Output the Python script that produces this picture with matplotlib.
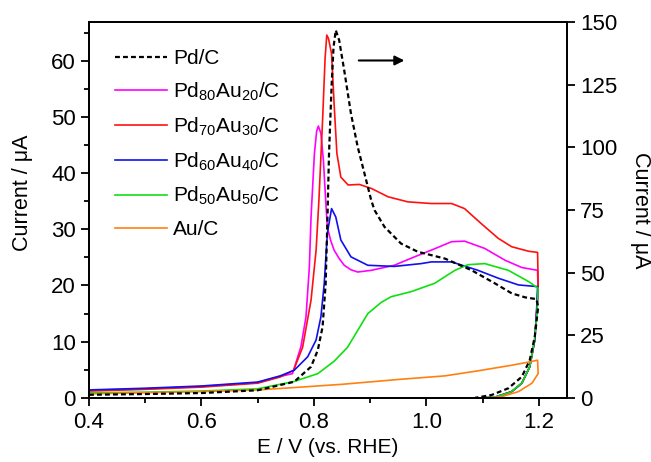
import numpy as np
import matplotlib
matplotlib.use("Agg")
import matplotlib.pyplot as plt

plt.rcParams['font.family'] = ['Liberation Sans', 'DejaVu Sans']
plt.rcParams['mathtext.fontset'] = 'custom'
plt.rcParams['mathtext.rm'] = 'Liberation Sans'
plt.rcParams['mathtext.it'] = 'Liberation Sans:italic'

# Pd80Au20/C (left axis, uA)
x_8020 = [0.40, 0.50, 0.60, 0.70, 0.74, 0.762, 0.777, 0.786, 0.792, 0.795, 0.801, 0.805, 0.808, 0.8125,
          0.817, 0.821, 0.824, 0.830, 0.836, 0.845, 0.854, 0.866, 0.878, 0.902, 0.943, 0.979, 1.009,
          1.045, 1.068, 1.104, 1.140, 1.170, 1.198,
          1.199, 1.196, 1.193, 1.184, 1.170, 1.152, 1.122, 1.104]
y_8020 = [1.3, 1.6, 2.0, 2.7, 3.8, 4.3, 9.1, 14.4, 23.3, 32.2, 43.5, 47.5, 48.4, 47.1,
          42.3, 35.2, 30.4, 28.0, 26.3, 24.8, 23.6, 22.8, 22.4, 22.7, 23.6, 25.1, 26.3,
          27.8, 27.9, 26.6, 24.5, 23.2, 22.7,
          18.0, 15.0, 10.3, 5.5, 2.6, 1.1, 0.1, 0.0]

# Pd70Au30/C
x_7030 = [0.40, 0.50, 0.60, 0.70, 0.74, 0.764, 0.780, 0.795, 0.804, 0.809, 0.8155, 0.820, 0.823, 0.826,
          0.8315, 0.836, 0.841, 0.848, 0.861, 0.881, 0.902, 0.932, 0.967, 1.009, 1.045, 1.068,
          1.098, 1.128, 1.152, 1.182, 1.198,
          1.199, 1.196, 1.193, 1.184, 1.170, 1.152, 1.122, 1.104]
y_7030 = [1.2, 1.5, 1.9, 2.6, 3.7, 4.9, 9.0, 17.4, 26.3, 35.2, 49.4, 60.5, 64.6, 64.0,
          61.3, 52.4, 43.5, 39.3, 37.9, 38.0, 37.3, 35.8, 34.9, 34.6, 34.6, 33.7,
          31.0, 28.4, 26.9, 26.1, 25.9,
          20.0, 15.0, 10.3, 5.5, 2.6, 1.1, 0.1, 0.0]

# Pd60Au40/C
x_6040 = [0.40, 0.50, 0.60, 0.70, 0.74, 0.765, 0.789, 0.804, 0.8125, 0.8185, 0.824, 0.8315, 0.839,
          0.848, 0.866, 0.896, 0.943, 0.991, 1.009, 1.045, 1.092, 1.128, 1.164, 1.198,
          1.196, 1.193, 1.184, 1.170, 1.152, 1.122, 1.104]
y_6040 = [1.4, 1.7, 2.1, 2.8, 3.9, 4.9, 7.3, 10.3, 14.4, 20.4, 29.3, 33.7, 32.2,
          28.1, 25.1, 23.6, 23.4, 23.9, 24.2, 24.2, 22.7, 21.3, 20.1, 19.8,
          15.0, 10.3, 5.5, 2.6, 1.1, 0.1, 0.0]

# Pd50Au50/C
x_5050 = [0.40, 0.50, 0.60, 0.70, 0.765, 0.807, 0.836, 0.860, 0.878, 0.896, 0.920, 0.9375, 0.973,
          1.015, 1.051, 1.074, 1.104, 1.146, 1.182, 1.199,
          1.197, 1.192, 1.184, 1.170, 1.150, 1.125, 1.101]
y_5050 = [0.9, 1.0, 1.2, 1.6, 2.9, 4.3, 6.5, 9.0, 12.0, 15.0, 17.0, 18.0, 18.9,
          20.4, 22.7, 23.7, 23.9, 22.7, 20.7, 19.5,
          15.0, 10.0, 5.5, 2.6, 1.0, 0.2, 0.0]

# Au/C
x_au = [0.40, 0.50, 0.60, 0.70, 0.777, 0.85, 0.955, 1.033, 1.092, 1.152, 1.184, 1.198,
        1.199, 1.188, 1.164, 1.134, 1.11]
y_au = [0.7, 0.9, 1.1, 1.4, 1.9, 2.4, 3.3, 3.9, 4.8, 5.8, 6.4, 6.7,
        4.3, 2.6, 1.1, 0.2, 0.0]

# Pd/C (right axis, uA)
x_pd = [0.40, 0.50, 0.60, 0.70, 0.765, 0.795, 0.807, 0.8155, 0.821, 0.824, 0.827, 0.8315, 0.835, 0.839,
        0.845, 0.854, 0.866, 0.878, 0.890, 0.902, 0.908, 0.9255, 0.955, 0.985, 1.033, 1.080, 1.122,
        1.152, 1.176, 1.196,
        1.199, 1.193, 1.184, 1.170, 1.146, 1.116, 1.087]
y_pd = [1.2, 1.5, 1.9, 3.0, 6.4, 12.4, 19.0, 28.3, 45.7, 70.0, 97.6, 124.2, 140.1, 146.8,
        142.8, 130.8, 113.5, 100.2, 89.6, 78.9, 74.9, 68.3, 61.6, 58.3, 55.6, 51.0, 45.7,
        41.7, 40.1, 39.4,
        36.3, 24.4, 15.0, 8.4, 3.8, 1.1, 0.0]

fig = plt.figure(figsize=(6.51, 4.62), dpi=100)
ax = fig.add_axes([0.1367, 0.139, 0.734, 0.813])
ax2 = ax.twinx()

lw = 1.2
h1, = ax.plot(x_8020, y_8020, color='#ff00ff', lw=lw, label=r'Pd$_{80}$Au$_{20}$/C')
h2, = ax.plot(x_7030, y_7030, color='#ff1010', lw=lw, label=r'Pd$_{70}$Au$_{30}$/C')
h3, = ax.plot(x_6040, y_6040, color='#1010ee', lw=lw, label=r'Pd$_{60}$Au$_{40}$/C')
h4, = ax.plot(x_5050, y_5050, color='#10e010', lw=lw, label=r'Pd$_{50}$Au$_{50}$/C')
h5, = ax.plot(x_au, y_au, color='#ff8010', lw=lw, label='Au/C')
h0, = ax2.plot(x_pd, y_pd, color='black', lw=1.6, ls=(0, (2.2, 1.4)), label='Pd/C')

ax.set_xlim(0.4, 1.25)
ax.set_ylim(0, 66.9)
ax2.set_ylim(0, 150)

ax.set_xticks([0.4, 0.6, 0.8, 1.0, 1.2])
ax.set_xticklabels(['0.4', '0.6', '0.8', '1.0', '1.2'])
ax.set_xticks([0.5, 0.7, 0.9, 1.1], minor=True)
ax.set_yticks([0, 10, 20, 30, 40, 50, 60])
ax.set_yticks(np.arange(5, 66, 10), minor=True)
ax2.set_yticks([0, 25, 50, 75, 100, 125, 150])

for a in (ax, ax2):
    a.tick_params(which='major', direction='out', length=6, width=1.3, labelsize=16)
    a.tick_params(which='minor', direction='out', length=3.5, width=1.3)
    for s in a.spines.values():
        s.set_linewidth(1.3)
ax.tick_params(axis='x', pad=4)

ax.set_xlabel('E / V (vs. RHE)', fontsize=15)
ax.set_ylabel('Current / μA', fontsize=15.5)
ax.yaxis.set_label_coords(-0.117, 0.545)
ax2.set_ylabel('Current / μA', fontsize=15.5, rotation=270, va='center')
ax2.yaxis.set_label_coords(1.155, 0.5)

ax2.annotate('', xy=(0.966, 134.7), xytext=(0.875, 134.7),
             arrowprops=dict(arrowstyle='-|>', color='black', lw=1.5, mutation_scale=14))

ax.legend([h0, h1, h2, h3, h4, h5], [h.get_label() for h in [h0, h1, h2, h3, h4, h5]],
          loc='upper left', bbox_to_anchor=(0.037, 0.95), frameon=False, fontsize=15,
          handlelength=2.5, handletextpad=0.3, labelspacing=0.6, borderaxespad=0)

fig.savefig('out.png', dpi=100)
